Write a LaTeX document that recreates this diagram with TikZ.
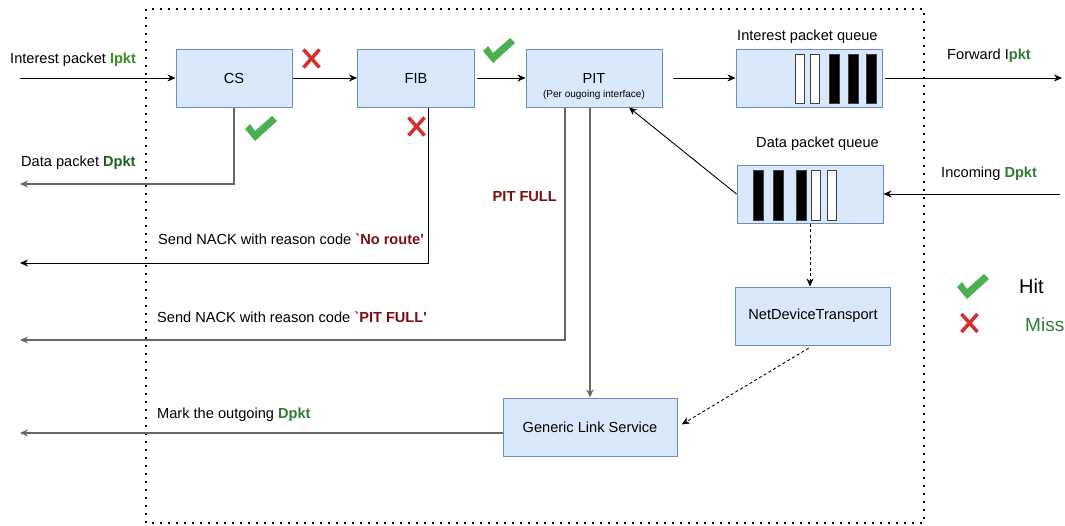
\documentclass[tikz,border=0pt]{standalone}
\usepackage{fontspec}
\setmainfont{Liberation Sans}
\usetikzlibrary{arrows.meta,positioning}
\definecolor{boxfill}{HTML}{DAE8FC}
\definecolor{boxline}{HTML}{6C8EBF}
\definecolor{hitgreen}{HTML}{4CAF50}
\definecolor{missred}{HTML}{D32F2F}
\definecolor{pktgreen}{HTML}{2E7D32}
\definecolor{pktlight}{HTML}{3A8F1E}
\definecolor{pktdark}{HTML}{1B5E20}
\definecolor{codered}{HTML}{7B0F0F}
\definecolor{wire}{HTML}{666666}

\tikzset{
  hitmark/.pic={\fill[hitgreen] (-16,0) -- (-11,-5) -- (-6,2) -- (11,-13) -- (16,-8) -- (-6,12) -- cycle;},
  missmark/.pic={\draw[missred,line width=3.5pt] (-8,-9) -- (8,9) (8,-9) -- (-8,9);}
}
\newcommand{\reasoncode}[1]{\textcolor{codered}{\textbf{\textasciigrave #1\textquotesingle}}}

\begin{document}
\begin{tikzpicture}[x=1pt,y=-1pt,
        font=\fontsize{14.6}{17}\selectfont,
        box/.style={draw=boxline,line width=1pt,fill=boxfill,minimum height=58pt,inner sep=0pt},
        bar/.style={draw=black!75,line width=1pt},
        lbl/.style={inner sep=0pt,anchor=base west},
        arr/.style={-{Stealth[length=8pt,width=7pt]},line width=0.9pt},
        garr/.style={arr,draw=wire,line width=1.4pt},
        darr/.style={arr,dash pattern=on 3pt off 2.5pt}
      ]
        \useasboundingbox (0,0) rectangle (1065,525);
        \draw[line width=2pt,dash pattern=on 1.8pt off 6.2pt] (146,9) rectangle (924,523);

        \node[box,minimum width=116pt] (cs) at (234,78) {CS};
        \node[box,minimum width=117pt] (fib) at (416,78) {FIB};
        \node[box,minimum width=136pt] (pit) at (594,78) {};
        \node[anchor=base] (pitname) at (594,83) {PIT};
        \node[anchor=base,font=\fontsize{10}{12}\selectfont] (pitnote) at (594,97) {(Per ougoing interface)};
        \node[box,minimum width=146pt] (iq) at (809,78) {};
        \node[box,minimum width=146pt] (dq) at (810,194) {};
        \node[box,minimum width=155pt] (ndt) at (813,316) {NetDeviceTransport};
        \node[box,minimum width=174pt] (gls) at (590,427) {Generic Link Service};

        \foreach \bx/\bc/\bw in {795/white/9.5, 810/white/9.5, 829/black/10.5, 848/black/10.5, 866/black/10.5}
          \draw[bar,fill=\bc] (\bx,54) rectangle ++(\bw,49);
        \foreach \bx/\bc/\bw in {753/black/10.5, 773/black/10.5, 796/black/10.5, 811/white/9.5, 827/white/9.5}
          \draw[bar,fill=\bc] (\bx,170) rectangle ++(\bw,50);

        \node[lbl] (iqname) at (737,40) {Interest packet queue};
        \node[lbl] (dqname) at (756,147) {Data packet queue};

        \coordinate (inL) at (20,78);
        \coordinate (dataOut) at (20,184);
        \coordinate (nackRoute) at (20,263);
        \coordinate (nackFull) at (20,340);
        \coordinate (markOut) at (20,433);
        \coordinate (fwdR) at (1062,78);
        \coordinate (incR) at (1060,194);

        \node[lbl] (inlbl) at (10,63) {Interest packet \textcolor{pktlight}{\textbf{Ipkt}}};
        \node[lbl] (datalbl) at (21,166) {Data packet \textcolor{pktdark}{\textbf{Dpkt}}};
        \node[lbl] (routelbl) at (158,244) {Send NACK with reason code \reasoncode{No route}};
        \node[lbl] (fulllbl) at (157,322) {Send NACK with reason code \reasoncode{PIT FULL}};
        \node[lbl,anchor=base east] (pitfull) at (557,201) {\textcolor{codered}{\textbf{PIT FULL}}};
        \node[lbl] (marklbl) at (157,418) {Mark the outgoing \textcolor{pktgreen}{\textbf{Dpkt}}};
        \node[lbl] (fwdlbl) at (947,59) {Forward I\textcolor{pktgreen}{\textbf{pkt}}};
        \node[lbl] (inclbl) at (941,177) {Incoming \textcolor{pktgreen}{\textbf{Dpkt}}};

        \draw[arr] (inL) -- (cs);
        \draw[arr] (cs) -- (fib);
        \draw[arr,shorten <=2pt] (fib) -- (pit);
        \draw[arr,shorten <=10pt] (pit) -- (iq);
        \draw[arr,shorten <=2pt] (iq) -- (fwdR);
        \draw[arr] (incR) -- (dq);
        \draw[arr] (dq.west) -- ([xshift=35pt]pit.south);
        \draw[garr] (cs.south) |- (dataOut);
        \draw[arr] ([xshift=12pt]fib.south) |- (nackRoute);
        \draw[garr] ([xshift=-29pt]pit.south) |- (nackFull);
        \draw[garr] (pit.south -| gls.north) -- (gls.north);
        \draw[darr] (dq.south) -- (dq.south |- ndt.north);
        \draw[darr,shorten <=5pt,shorten >=5pt] (ndt.south) -- (gls.east);
        \draw[garr] ([yshift=-6pt]gls.west) -- (markOut);

        \pic at (261,129) {hitmark};
        \pic at (499,51) {hitmark};
        \pic at (311.5,58.5) {missmark};
        \pic at (416.5,126.5) {missmark};

        \pic at (973,287) {hitmark};
        \node[lbl,font=\fontsize{20}{24}\selectfont] (hit) at (1019,293) {Hit};
        \pic at (969.5,323) {missmark};
        \node[lbl,font=\fontsize{19}{23}\selectfont,text=pktgreen] (miss) at (1025,331) {Miss};
      \end{tikzpicture}
\end{document}
